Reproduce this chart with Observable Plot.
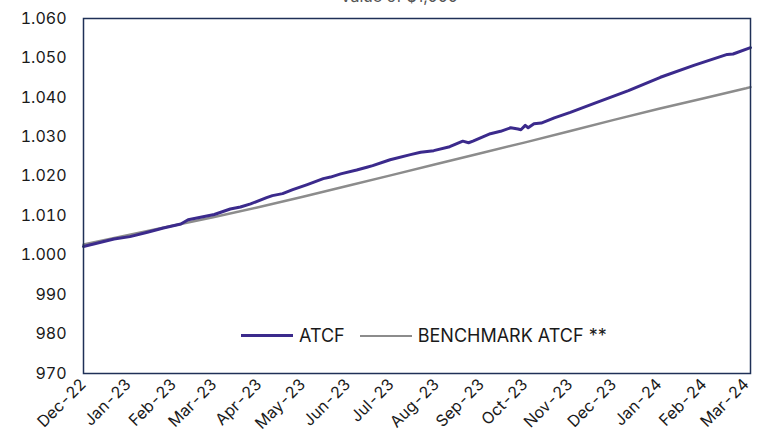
<!DOCTYPE html>
<html>
<head>
<meta charset="utf-8">
<script src="https://cdn.jsdelivr.net/npm/d3@7"></script>
<script src="https://cdn.jsdelivr.net/npm/@observablehq/plot@0.6"></script>
<style>
  html, body { margin: 0; padding: 0; background: #fff; overflow: hidden; }
  #wrap { position: relative; width: 758px; height: 441px; font-family: Inter, "Noto Sans", sans-serif; }
  #title { position: absolute; top: -14px; left: 0; width: 758px; text-align: center; font-size: 16px; color: #555; padding-left: 40px; box-sizing: border-box; }
  #legend { position: absolute; top: 325px; left: 241px; display: flex; align-items: center; font-size: 18px; color: #1a1a1a; white-space: nowrap; }
  .sw { display: inline-block; width: 52px; height: 0; margin-right: 6px; }
</style>
</head>
<body>
<div id="wrap">
  <div id="chart"></div>
  <div id="title">Value of $1,000</div>
  <div id="legend">
    <span class="sw" style="border-top:3px solid #3b2a8c"></span><span>ATCF</span>
    <span class="sw" style="border-top:2.5px solid #8c8c8c; margin-left:15px"></span><span>BENCHMARK ATCF **</span>
  </div>
</div>
<script>
const seriesNames = ["ATCF", "BENCHMARK ATCF **"];

const atcfDates = ["2022-12-01","2022-12-22","2023-01-02","2023-01-14","2023-01-25","2023-02-06","2023-02-11","2023-03-01","2023-03-12","2023-03-19","2023-03-26","2023-04-06","2023-04-10","2023-04-17","2023-04-24","2023-05-04","2023-05-15","2023-05-20","2023-05-27","2023-06-07","2023-06-14","2023-06-18","2023-06-30","2023-07-14","2023-07-21","2023-07-30","2023-08-10","2023-08-19","2023-08-23","2023-08-26","2023-09-07","2023-09-14","2023-09-21","2023-09-26","2023-09-28","2023-10-01","2023-10-03","2023-10-07","2023-10-12","2023-10-21","2023-11-01","2023-11-17","2023-12-11","2024-01-02","2024-01-25","2024-02-17","2024-02-21","2024-03-04"];
const atcfValues = [1002.2,1004.1,1004.7,1005.8,1006.9,1007.9,1009.0,1010.3,1011.7,1012.2,1013.0,1014.6,1015.1,1015.6,1016.6,1017.9,1019.4,1019.8,1020.6,1021.6,1022.3,1022.7,1024.2,1025.5,1026.1,1026.5,1027.5,1028.9,1028.5,1028.9,1030.8,1031.4,1032.3,1032.0,1031.8,1032.9,1032.3,1033.3,1033.5,1034.8,1036.2,1038.4,1041.7,1045.1,1048.1,1050.9,1051.0,1052.6];

const benchDates = ["2022-12-01","2023-01-01","2023-02-01","2023-03-01","2023-04-01","2023-05-01","2023-06-01","2023-07-01","2023-08-01","2023-09-01","2023-10-01","2023-11-01","2023-12-01","2024-01-01","2024-02-01","2024-03-01","2024-03-04"];
const benchValues = [1002.7,1005.1,1007.5,1009.7,1012.2,1014.8,1017.6,1020.3,1023.1,1025.9,1028.6,1031.5,1034.3,1037.1,1039.8,1042.3,1042.6];

const yTicks = [970,980,990,1000,1010,1020,1030,1040,1050,1060];
const xTicks = ["2022-12-01","2023-01-01","2023-02-01","2023-03-01","2023-04-01","2023-05-01","2023-06-01","2023-07-01","2023-08-01","2023-09-01","2023-10-01","2023-11-01","2023-12-01","2024-01-01","2024-02-01","2024-03-01"];

const rows = [
  ...atcfDates.map((d, i) => ({series: seriesNames[0], date: new Date(d), value: atcfValues[i]})),
  ...benchDates.map((d, i) => ({series: seriesNames[1], date: new Date(d), value: benchValues[i]}))
];

const fmtY = v => v >= 1000 ? Math.floor(v/1000) + "." + String(v % 1000).padStart(3, "0") : String(v);
const fmtX = d3.utcFormat("%b-%y");

const chart = Plot.plot({
  width: 758,
  height: 441,
  marginLeft: 83,
  marginRight: 8,
  marginTop: 18,
  marginBottom: 68,
  style: {fontFamily: "Inter, 'Noto Sans', sans-serif", fontSize: "16px", color: "#1a1a1a", background: "#fff"},
  x: {type: "utc", domain: [new Date("2022-12-01"), new Date("2024-03-04")], ticks: xTicks.map(d => new Date(d)), tickFormat: fmtX, tickRotate: -45, tickSize: 0, tickPadding: 8, label: null},
  y: {domain: [970, 1060], ticks: yTicks, tickFormat: fmtY, tickSize: 0, tickPadding: 17, label: null},
  color: {domain: seriesNames, range: ["#3b2a8c", "#8c8c8c"]},
  marks: [
    Plot.line(rows.filter(r => r.series === seriesNames[1]), {x: "date", y: "value", stroke: "series", strokeWidth: 2.5}),
    Plot.line(rows.filter(r => r.series === seriesNames[0]), {x: "date", y: "value", stroke: "series", strokeWidth: 3}),
    Plot.frame({stroke: "#1f3057", strokeWidth: 1.5})
  ]
});
document.getElementById("chart").appendChild(chart);
</script>
</body>
</html>
